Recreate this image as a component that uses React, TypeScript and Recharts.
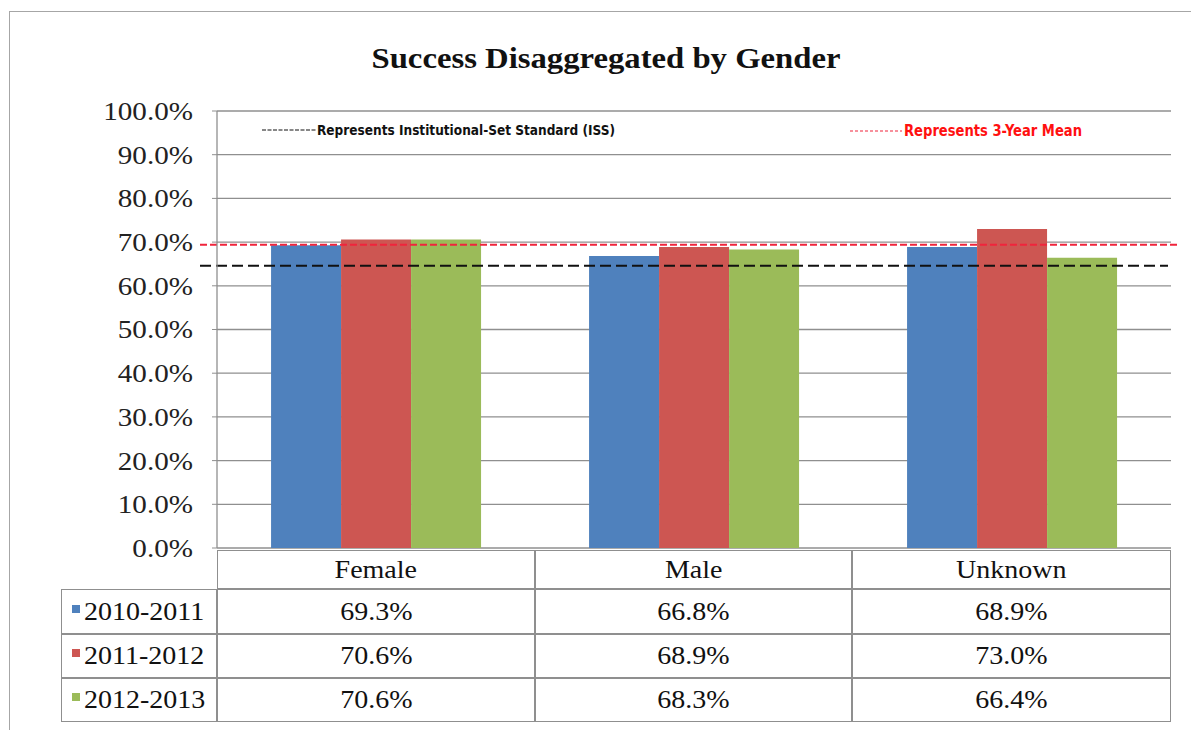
import { BarChart, Bar, XAxis, YAxis, CartesianGrid, ReferenceLine } from 'recharts'

const CATEGORIES = ['Female', 'Male', 'Unknown']
const SERIES = ['2010-2011', '2011-2012', '2012-2013']
const Y2010 = [69.3, 66.8, 68.9]
const Y2011 = [70.6, 68.9, 73.0]
const Y2012 = [70.6, 68.3, 66.4]
const Y_TICKS = [0, 10, 20, 30, 40, 50, 60, 70, 80, 90, 100]
const ISS = 64.6 // institutional-set standard
const MEAN = 69.4 // 3-year mean

const COLORS = ['#4f81bd', '#cd5652', '#9bbb59']
const SERIES_VALUES = [Y2010, Y2011, Y2012]

const W = 1191
const H = 730
const PLOT_LEFT = 217
const PLOT_RIGHT = 1171
const PLOT_TOP = 111
const PLOT_BOTTOM = 548

const TABLE_LEFT = 61
const ROW_TOPS = [550, 589, 634, 678, 722]
const COL_EDGES = [217, 535, 852, 1171]

const SERIF = '"Liberation Serif", "Times New Roman", serif'
const NARROW = '"Liberation Sans Narrow", "DejaVu Sans Condensed", "Liberation Sans", sans-serif'
const LINE = '#8f8f8f'
const STRETCH = 1.12 // the source is drawn a little wide

const chartData = CATEGORIES.map((name, i) => ({
  name,
  s0: Y2010[i],
  s1: Y2011[i],
  s2: Y2012[i],
}))

const pct = (v: number) => `${v.toFixed(1)}%`

// eslint-disable-next-line @typescript-eslint/no-explicit-any
function YTick({ x, y, payload }: any) {
  return (
    <text
      transform={`translate(${x},${y + 3}) scale(${STRETCH},1)`}
      textAnchor="end"
      dominantBaseline="middle"
      fontFamily={SERIF}
      fontSize={26}
      fill="#222"
    >
      {pct(payload.value)}
    </text>
  )
}

// eslint-disable-next-line @typescript-eslint/no-explicit-any
function DashLine({ x1, y1, x2, y2, stroke, dash, extL, extR }: any) {
  return (
    <line
      x1={x1 - extL}
      y1={y1}
      x2={x2 + extR}
      y2={y2}
      stroke={stroke}
      strokeWidth={2}
      strokeDasharray={dash}
    />
  )
}

const cellBase: React.CSSProperties = {
  position: 'absolute',
  border: `1.5px solid ${LINE}`,
  boxSizing: 'border-box',
  display: 'flex',
  alignItems: 'center',
  fontFamily: SERIF,
  fontSize: 25,
  color: '#111',
}

const Wide = ({ children }: { children: React.ReactNode }) => (
  <span style={{ display: 'inline-block', transform: `scaleX(${STRETCH})` }}>{children}</span>
)

function DataTable() {
  const cells: React.ReactNode[] = []
  CATEGORIES.forEach((c, j) => {
    cells.push(
      <div
        key={`h${j}`}
        style={{
          ...cellBase,
          left: COL_EDGES[j],
          top: ROW_TOPS[0],
          width: COL_EDGES[j + 1] - COL_EDGES[j],
          height: ROW_TOPS[1] - ROW_TOPS[0],
          justifyContent: 'center',
        }}
      >
        <Wide>{c}</Wide>
      </div>
    )
  })
  SERIES.forEach((s, i) => {
    const top = ROW_TOPS[i + 1]
    const h = ROW_TOPS[i + 2] - top
    cells.push(
      <div
        key={`l${i}`}
        style={{
          ...cellBase,
          left: TABLE_LEFT,
          top,
          width: COL_EDGES[0] - TABLE_LEFT,
          height: h,
          paddingLeft: 10,
        }}
      >
        <span
          style={{
            display: 'inline-block',
            width: 8,
            height: 8,
            background: COLORS[i],
            marginRight: 4,
            marginTop: -6,
          }}
        />
        <span style={{ display: 'inline-block', transform: `scaleX(${STRETCH})`, transformOrigin: 'left center' }}>
          {s}
        </span>
      </div>
    )
    SERIES_VALUES[i].forEach((v, j) => {
      cells.push(
        <div
          key={`c${i}-${j}`}
          style={{
            ...cellBase,
            left: COL_EDGES[j],
            top,
            width: COL_EDGES[j + 1] - COL_EDGES[j],
            height: h,
            justifyContent: 'center',
          }}
        >
          <Wide>{pct(v)}</Wide>
        </div>
      )
    })
  })
  return <>{cells}</>
}

export default function App() {
  return (
    <div style={{ position: 'relative', width: W, height: H, background: '#fff', overflow: 'hidden' }}>
      <style>{'body{margin:0}'}</style>
      {/* outer frame */}
      <div
        style={{
          position: 'absolute',
          left: 9,
          top: 11,
          width: W,
          height: H,
          borderLeft: '1.5px solid #a6a6a6',
          borderTop: '1.5px solid #a6a6a6',
        }}
      />
      <div style={{ position: 'absolute', left: 0, top: 0 }}>
        <BarChart
          width={W}
          height={H}
          data={chartData}
          margin={{ top: PLOT_TOP, right: W - PLOT_RIGHT, bottom: H - PLOT_BOTTOM, left: 0 }}
          barCategoryGap="17%"
          barGap={0}
        >
          <CartesianGrid horizontal vertical={false} stroke={LINE} strokeWidth={1.3} />
          <XAxis dataKey="name" hide />
          <YAxis
            type="number"
            domain={[0, 100]}
            ticks={Y_TICKS}
            width={PLOT_LEFT}
            tick={<YTick />}
            tickSize={5}
            tickMargin={19}
            axisLine={{ stroke: LINE, strokeWidth: 1.3 }}
            tickLine={{ stroke: LINE }}
          />
          {SERIES.map((s, i) => (
            <Bar key={s} dataKey={`s${i}`} name={s} fill={COLORS[i]} isAnimationActive={false} />
          ))}
          <ReferenceLine
            y={MEAN}
            stroke="#ff1a1a"
            shape={(p: any) => <DashLine {...p} stroke="#f0243c" dash="7 3" extL={17} extR={9} />}
          />
          <ReferenceLine
            y={ISS}
            stroke="#000"
            shape={(p: any) => <DashLine {...p} stroke="#111" dash="11 5" extL={17} extR={-3} />}
          />
        </BarChart>
      </div>
      <DataTable />
      <svg
        width={W}
        height={H}
        style={{ position: 'absolute', left: 0, top: 0, pointerEvents: 'none' }}
      >
        <text
          x={606}
          y={68}
          textAnchor="middle"
          fontFamily={SERIF}
          fontWeight="bold"
          fontSize={29}
          textLength={469}
          lengthAdjust="spacingAndGlyphs"
          fill="#111"
        >
          Success Disaggregated by Gender
        </text>
        <line x1={262} y1={130} x2={316} y2={130} stroke="#111" strokeWidth={1.2} strokeDasharray="4 1.5" />
        <text
          x={317}
          y={135}
          fontFamily={NARROW}
          fontWeight="bold"
          fontSize={14}
          textLength={298}
          lengthAdjust="spacingAndGlyphs"
          fill="#111"
        >
          Represents Institutional-Set Standard (ISS)
        </text>
        <line x1={850} y1={131} x2={902} y2={131} stroke="#f0243c" strokeWidth={1.2} strokeDasharray="3 2" />
        <text
          x={904}
          y={136}
          fontFamily={NARROW}
          fontWeight="bold"
          fontSize={15}
          textLength={178}
          lengthAdjust="spacingAndGlyphs"
          fill="#ff1010"
        >
          Represents 3-Year Mean
        </text>
      </svg>
    </div>
  )
}
